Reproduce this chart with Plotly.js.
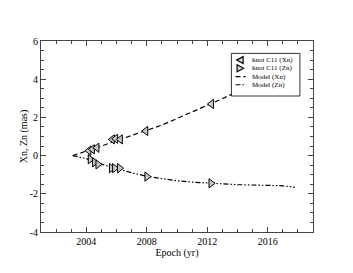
<!DOCTYPE html>
<html>
<head>
<meta charset="utf-8">
<script src="https://cdn.plot.ly/plotly-3.0.1.min.js"></script>
<style>html,body{margin:0;padding:0;background:#fff;}#chart{width:353px;height:273px;}</style>
</head>
<body>
<div id="chart"></div>
<script>
// Observed knot C11 positions
const xnYears = [2004.17, 2004.40, 2004.70, 2005.72, 2005.94, 2006.25, 2007.93, 2012.28];
const xnVals  = [0.26, 0.33, 0.41, 0.85, 0.88, 0.85, 1.29, 2.70];
const znYears = [2004.26, 2004.55, 2004.77, 2005.66, 2005.87, 2006.20, 2008.01, 2012.25];
const znVals  = [-0.19, -0.35, -0.46, -0.66, -0.66, -0.66, -1.10, -1.45];

// Model curves
const modelYears = [2003.1, 2004, 2005, 2006, 2007, 2008, 2009, 2010, 2011, 2012, 2013, 2014, 2015, 2016, 2017, 2017.8];
const modelXn = [0.0, 0.22, 0.50, 0.78, 1.04, 1.30, 1.60, 1.94, 2.28, 2.62, 2.98, 3.35, 3.72, 4.10, 4.50, 4.80];
const modelZn = [0.0, -0.16, -0.45, -0.68, -0.90, -1.08, -1.22, -1.32, -1.39, -1.44, -1.49, -1.52, -1.54, -1.55, -1.58, -1.66];

// Tick labels
const xTickVals = [2004, 2008, 2012, 2016];
const xTickText = ['2004', '2008', '2012', '2016'];
const yTickVals = [-4, -2, 0, 2, 4, 6];
const yTickText = ['-4', '-2', '0', '2', '4', '6'];

// Legend labels
const legendLabels = ['knot C11 (Xn)', 'knot C11 (Zn)', 'Model (Xn)', 'Model (Zn)'];

const FONT = 'Liberation Serif, Times New Roman, serif';
const markerStyle = {size: 8, color: '#c8c8c8', line: {color: '#000', width: 1}};
const dashXn = '5px,3px';
const dashZn = '5px,2px,1.5px,2px,1.5px,2px';

const traces = [
  {x: modelYears, y: modelXn, mode: 'lines', line: {color: '#000', width: 1.2, dash: dashXn}, hoverinfo: 'skip'},
  {x: modelYears, y: modelZn, mode: 'lines', line: {color: '#000', width: 1.2, dash: dashZn}, hoverinfo: 'skip'},
  {x: xnYears, y: xnVals, mode: 'markers', marker: Object.assign({symbol: 'triangle-left'}, markerStyle)},
  {x: znYears, y: znVals, mode: 'markers', marker: Object.assign({symbol: 'triangle-right'}, markerStyle)}
];

// Legend (drawn in plot-fraction coordinates)
const lgX0 = 0.70, lgX1 = 0.952, lgY0 = 0.712, lgY1 = 0.935;
const rowY = [0.900, 0.857, 0.814, 0.771];
const symX = 0.732, textX = 0.772;

const shapes = [
  {type: 'rect', xref: 'x domain', yref: 'y domain', x0: lgX0, x1: lgX1, y0: lgY0, y1: lgY1,
   fillcolor: '#fff', line: {color: '#000', width: 0.8}, layer: 'above'},
  {type: 'path', xref: 'x domain', yref: 'y domain', xsizemode: 'pixel', ysizemode: 'pixel',
   xanchor: symX, yanchor: rowY[0], path: 'M-3.5,0 L3,3.5 L3,-3.5 Z',
   fillcolor: '#ddd', line: {color: '#000', width: 1.2}, layer: 'above'},
  {type: 'path', xref: 'x domain', yref: 'y domain', xsizemode: 'pixel', ysizemode: 'pixel',
   xanchor: symX, yanchor: rowY[1], path: 'M3.5,0 L-3,3.5 L-3,-3.5 Z',
   fillcolor: '#ddd', line: {color: '#000', width: 1.2}, layer: 'above'},
  {type: 'line', xref: 'x domain', yref: 'y domain', x0: 0.715, x1: 0.752, y0: rowY[2], y1: rowY[2],
   line: {color: '#000', width: 1.2, dash: dashXn}, layer: 'above'},
  {type: 'line', xref: 'x domain', yref: 'y domain', x0: 0.715, x1: 0.752, y0: rowY[3], y1: rowY[3],
   line: {color: '#000', width: 1.2, dash: dashZn}, layer: 'above'}
];

const annotations = legendLabels.map((t, i) => ({
  xref: 'x domain', yref: 'y domain', x: textX, y: rowY[i], text: t, showarrow: false,
  xanchor: 'left', yanchor: 'middle', borderpad: 0, font: {family: FONT, size: 7, color: '#000'}
}));

const axisCommon = {
  showgrid: false, zeroline: false, showline: true, linecolor: '#444', linewidth: 1,
  mirror: 'allticks', ticks: 'inside', ticklen: 5, tickcolor: '#444', tickwidth: 1,
  tickfont: {family: FONT, size: 10, color: '#000'}
};

const layout = {
  width: 353, height: 273,
  margin: {l: 41, r: 40, t: 41, b: 41},
  paper_bgcolor: '#fff', plot_bgcolor: '#fff',
  showlegend: false,
  xaxis: Object.assign({}, axisCommon, {
    range: [2001, 2019], tickmode: 'array', tickvals: xTickVals, ticktext: xTickText,
    minor: {ticks: 'inside', ticklen: 3, dtick: 1, tick0: 2001, tickcolor: '#444', showgrid: false},
    title: {text: 'Epoch (yr)', font: {family: FONT, size: 10, color: '#000'}, standoff: 0}
  }),
  yaxis: Object.assign({}, axisCommon, {
    range: [-4, 6], tickmode: 'array', tickvals: yTickVals, ticktext: yTickText,
    minor: {ticks: 'inside', ticklen: 3, dtick: 0.5, tick0: 0, tickcolor: '#444', showgrid: false},
    title: {text: 'Xn, Zn (mas)', font: {family: FONT, size: 10, color: '#000'}, standoff: 0}
  }),
  shapes: shapes,
  annotations: annotations
};

Plotly.newPlot('chart', traces, layout, {staticPlot: true, displayModeBar: false});
</script>
</body>
</html>
